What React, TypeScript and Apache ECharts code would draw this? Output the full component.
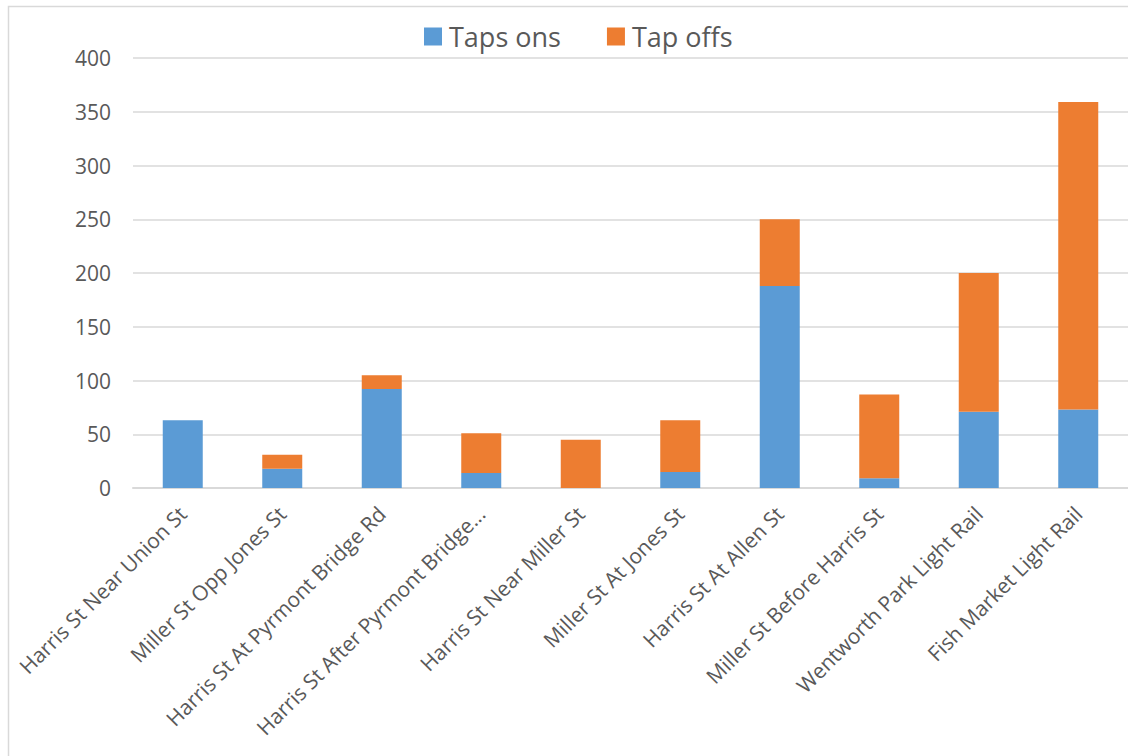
import React, { useEffect, useRef } from "react";
import * as echarts from "echarts";

// Stops along the route
const stops = [
  "Harris St Near Union St",
  "Miller St Opp Jones St",
  "Harris St At Pyrmont Bridge Rd",
  "Harris St After Pyrmont Bridge...",
  "Harris St Near Miller St",
  "Miller St At Jones St",
  "Harris St At Allen St",
  "Miller St Before Harris St",
  "Wentworth Park Light Rail",
  "Fish Market Light Rail",
];

// Card taps per stop
const tapsOns = [63, 18, 92, 14, 0, 15, 188, 9, 71, 73];
const tapOffs = [0, 13, 13, 37, 45, 48, 62, 78, 129, 286];

const yMin = 0;
const yMax = 400;
const yStep = 50;

const FONT = "'Open Sans', sans-serif";
const TEXT = "#595959";
const GRID = "#d9d9d9";

export default function App() {
  const ref = useRef<HTMLDivElement>(null);

  useEffect(() => {
    if (!ref.current) return;
    const chart = echarts.init(ref.current, undefined, { renderer: "svg" });
    chart.setOption({
      animation: false,
      backgroundColor: "#ffffff",
      textStyle: { fontFamily: FONT, color: TEXT },
      graphic: [
        {
          type: "rect",
          silent: true,
          shape: { x: 8.5, y: 6.5, width: 1400, height: 900 },
          style: { fill: "none", stroke: GRID, lineWidth: 1.5 },
        },
      ],
      legend: {
        left: 419,
        top: 18,
        icon: "rect",
        itemWidth: 18,
        itemHeight: 18,
        itemGap: 46,
        textStyle: {
          fontFamily: FONT,
          fontSize: 27,
          color: TEXT,
          lineHeight: 27,
          padding: [0, 0, 0, 2],
        },
        data: ["Taps ons", "Tap offs"],
      },
      grid: {
        left: 133,
        top: 58,
        width: 1000,
        height: 430,
        containLabel: false,
      },
      xAxis: {
        type: "category",
        data: stops,
        axisLine: { lineStyle: { color: GRID, width: 2 } },
        axisTick: { show: false },
        axisLabel: {
          rotate: 45,
          interval: 0,
          margin: 22,
          fontFamily: FONT,
          fontSize: 21,
          color: TEXT,
        },
      },
      yAxis: {
        type: "value",
        min: yMin,
        max: yMax,
        interval: yStep,
        axisLine: { show: false },
        axisTick: { show: false },
        splitLine: { lineStyle: { color: GRID, width: 1.5 } },
        axisLabel: {
          margin: 22,
          fontFamily: FONT,
          fontSize: 21,
          color: TEXT,
        },
      },
      series: [
        {
          name: "Taps ons",
          type: "bar",
          stack: "taps",
          barWidth: 40,
          data: tapsOns,
          itemStyle: { color: "#5B9BD5" },
        },
        {
          name: "Tap offs",
          type: "bar",
          stack: "taps",
          barWidth: 40,
          data: tapOffs,
          itemStyle: { color: "#ED7D31" },
        },
      ],
    });
    return () => chart.dispose();
  }, []);

  return (
    <div
      ref={ref}
      style={{ position: "fixed", left: 0, top: 0, width: 1128, height: 756 }}
    />
  );
}
